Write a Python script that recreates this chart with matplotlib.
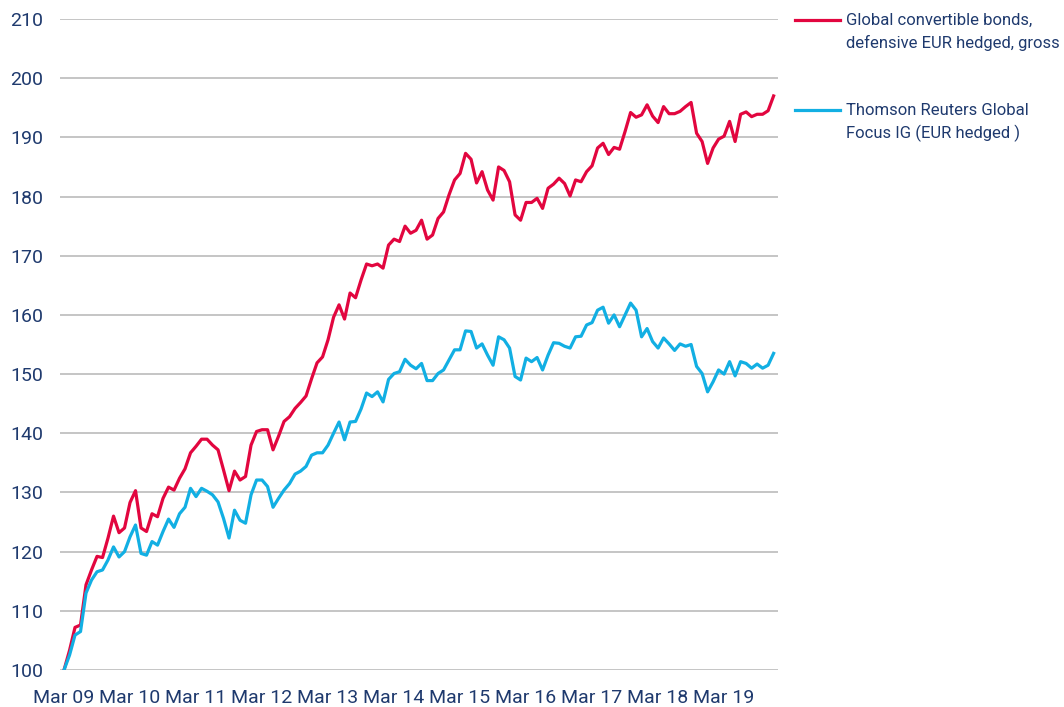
import numpy as np
import pandas as pd
import matplotlib
matplotlib.use("Agg")
import matplotlib.pyplot as plt
from matplotlib.lines import Line2D

plt.rcParams['font.family'] = ['DejaVu Sans Condensed', 'Roboto']

# monthly index values, Mar 2009 = 100
convertibles = [
    100.0, 103.3, 107.2, 107.6, 114.4, 116.9, 119.2, 119.0, 122.3, 126.0,
    123.2, 124.0, 128.3, 130.3, 124.0, 123.4, 126.4, 125.9, 129.0, 130.9,
    130.4, 132.4, 134.0, 136.7, 137.8, 139.0, 139.0, 138.0, 137.2, 133.8,
    130.3, 133.6, 132.1, 132.7, 138.0, 140.3, 140.6, 140.6, 137.2, 139.5,
    142.0, 142.8, 144.2, 145.2, 146.3, 149.2, 151.9, 152.9, 155.8, 159.6,
    161.7, 159.3, 163.7, 162.9, 165.9, 168.6, 168.3, 168.6, 167.9, 171.8,
    172.8, 172.4, 175.0, 173.8, 174.3, 176.0, 172.8, 173.5, 176.3, 177.4,
    180.3, 182.8, 183.9, 187.3, 186.3, 182.3, 184.2, 181.1, 179.4, 185.0,
    184.4, 182.5, 176.9, 176.0, 179.0, 179.0, 179.7, 178.0, 181.4, 182.1,
    183.1, 182.2, 180.1, 182.8, 182.5, 184.2, 185.2, 188.2, 189.0, 187.1,
    188.3, 188.0, 191.0, 194.2, 193.4, 193.8, 195.5, 193.6, 192.5, 195.2,
    194.0, 194.0, 194.4, 195.2, 195.9, 190.7, 189.3, 185.6, 188.2, 189.7,
    190.2, 192.7, 189.3, 193.9, 194.3, 193.5, 193.9, 193.9, 194.5, 197.0,
]
ig_bonds = [
    100.0, 102.5, 105.9, 106.5, 113.0, 115.2, 116.6, 116.9, 118.6, 120.8,
    119.1, 120.0, 122.5, 124.5, 119.7, 119.4, 121.7, 121.1, 123.4, 125.5,
    124.1, 126.4, 127.5, 130.7, 129.3, 130.7, 130.2, 129.6, 128.4, 125.6,
    122.3, 127.0, 125.3, 124.8, 129.6, 132.1, 132.1, 131.0, 127.5, 129.0,
    130.4, 131.5, 133.1, 133.6, 134.4, 136.3, 136.7, 136.7, 138.0, 140.0,
    141.9, 138.9, 141.9, 142.0, 144.1, 146.8, 146.2, 147.0, 145.3, 149.1,
    150.1, 150.4, 152.5, 151.5, 150.9, 151.8, 148.9, 148.9, 150.1, 150.7,
    152.4, 154.1, 154.1, 157.3, 157.2, 154.4, 155.1, 153.2, 151.5, 156.3,
    155.8, 154.4, 149.6, 149.0, 152.7, 152.1, 152.8, 150.7, 153.2, 155.3,
    155.2, 154.7, 154.4, 156.3, 156.4, 158.3, 158.7, 160.8, 161.3, 158.6,
    160.0, 158.0, 160.0, 162.0, 160.8, 156.3, 157.7, 155.5, 154.4, 156.1,
    155.1, 154.0, 155.1, 154.7, 155.0, 151.3, 150.1, 147.0, 148.7, 150.7,
    150.0, 152.1, 149.7, 152.1, 151.8, 151.0, 151.7, 151.0, 151.5, 153.5,
]
dates = pd.date_range('2009-03-01', periods=len(convertibles), freq='MS')
tick_labels = [d.strftime('Mar %y') for d in dates if d.month == 3]
series_names = ['Global convertible bonds,\ndefensive EUR hedged, gross',
                'Thomson Reuters Global\nFocus IG (EUR hedged )']

red = '#E2063F'
blue = '#12AFE3'
navy = '#1F3A6E'

fig = plt.figure(figsize=(10.64, 7.07), dpi=100)
ax = fig.add_axes([60 / 1064, 1 - 670 / 707, 718 / 1064, 651 / 707])

x = np.arange(len(dates))
ax.plot(x, convertibles, color=red, lw=2.3, solid_joinstyle='round')
ax.plot(x, ig_bonds, color=blue, lw=2.3, solid_joinstyle='round')

ax.set_ylim(100, 210)
ax.set_yticks(np.arange(100, 211, 10))
ax.set_xlim(-0.73, 129.8)
ax.set_xticks(x[dates.month == 3])
ax.set_xticklabels(tick_labels)
ax.grid(axis='y', color='#C0C0C0', lw=1.3)
ax.set_axisbelow(True)
for s in ax.spines.values():
    s.set_visible(False)
ax.tick_params(length=0, labelsize=14, labelcolor=navy)
ax.tick_params(axis='x', pad=14)
ax.tick_params(axis='y', pad=12)

# legend to the right of the plot
for (yy, name, col) in [(20, series_names[0], red), (110, series_names[1], blue)]:
    fy = 1 - yy / 707
    fig.add_artist(Line2D([795 / 1064, 840 / 1064], [fy, fy], color=col, lw=2.3,
                          transform=fig.transFigure))
    fig.text(846 / 1064, fy + 7 / 707, name, color=navy, fontsize=12,
             va='top', ha='left', linespacing=1.5)

fig.savefig('out.png', dpi=100)
